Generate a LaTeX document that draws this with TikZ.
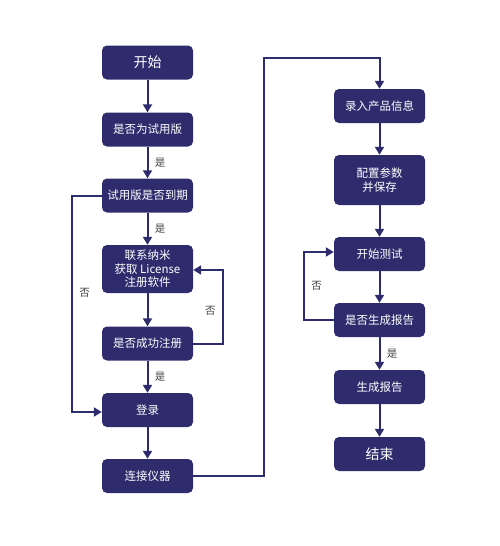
\documentclass[tikz,border=0pt]{standalone}
\usepackage{fontspec}
\newfontfamily\cjk{Noto Sans CJK SC}
\usetikzlibrary{arrows.meta}
\definecolor{navy}{HTML}{2F2C6E}
\definecolor{lbl}{HTML}{444444}

\tikzset{
	box/.style={draw=none,fill=navy,rounded corners=5pt,minimum width=91pt,
		minimum height=34pt,text=white,font=\cjk\fontsize{11.5}{13.5}\selectfont,
		align=center,inner sep=0pt},
	flow/.style={draw=navy,line width=2pt,-{Triangle[length=8pt,width=9pt]}},
	lab/.style={text=lbl,font=\cjk\fontsize{10.5}{12}\selectfont}
}

\begin{document}
\begin{tikzpicture}[x=1pt,y=-1pt]
	\useasboundingbox (0,0) rectangle (499,546);
	% left column
	\node[box,font=\cjk\fontsize{14}{16}\selectfont] (start) at (147.5,62.5) {开始};
	\node[box] (trial) at (147.5,129.5) {是否为试用版};
	\node[box] (expire) at (147.5,195.5) {试用版是否到期};
	\node[box,minimum height=48pt] (contact) at (147.5,269) {联系纳米\\获取 License\\注册软件};
	\node[box] (regok) at (147.5,343.5) {是否成功注册};
	\node[box] (login) at (147.5,410) {登录};
	\node[box] (connect) at (147.5,476) {连接仪器};
	% right column
	\node[box] (input) at (379.5,106) {录入产品信息};
	\node[box,minimum height=50pt] (config) at (379.5,180) {配置参数\\并保存};
	\node[box] (test) at (379.5,254) {开始测试};
	\node[box] (report) at (379.5,320) {是否生成报告};
	\node[box] (gen) at (379.5,387) {生成报告};
	\node[box,font=\cjk\fontsize{14}{16}\selectfont] (stop) at (379.5,454) {结束};

	\draw[flow] (start) -- (trial);
	\draw[flow] (trial) -- node[lab,right=3pt] {是} (expire);
	\draw[flow] (expire) -- node[lab,right=3pt] {是} (contact);
	\draw[flow] (contact) -- (regok);
	\draw[flow] (regok) -- node[lab,right=3pt] {是} (login);
	\draw[flow] (login) -- (connect);
	\draw[flow] (expire.west) -- (72,195.5) -- node[lab,right=3pt,pos=.45] {否} (72,412) -- (login.west |- 0,412);
	\draw[flow] (regok.east) -- (223,343.5) -- node[lab,left=3pt,pos=.45] {否} (223,270) -- (contact.east |- 0,270);
	\draw[flow] (connect.east) -- (264,476) -- (264,58) -- (379.5,58) -- (input);

	\draw[flow] (input) -- (config);
	\draw[flow] (config) -- (test);
	\draw[flow] (test) -- (report);
	\draw[flow] (report) -- node[lab,right=3pt] {是} (gen);
	\draw[flow] (gen) -- (stop);
	\draw[flow] (report.west) -- (304,320) -- node[lab,right=3pt] {否} (304,252) -- (test.west |- 0,252);
\end{tikzpicture}
\end{document}
